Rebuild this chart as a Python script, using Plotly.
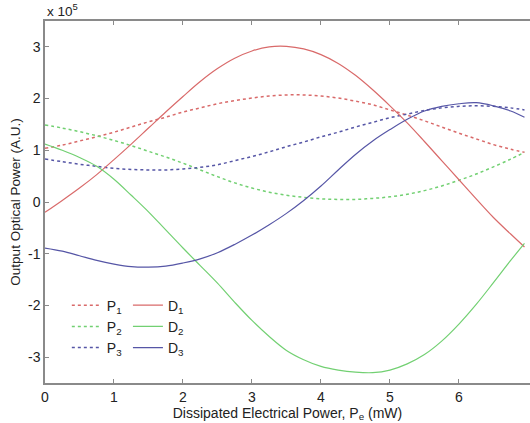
import plotly.graph_objects as go

# Dissipated electrical power (mW)
pe = [0.0, 0.25, 0.5, 0.75, 1.0, 1.25, 1.5, 1.75, 2.0, 2.25, 2.5, 2.75, 3.0, 3.25,
      3.5, 3.75, 4.0, 4.25, 4.5, 4.75, 5.0, 5.25, 5.5, 5.75, 6.0, 6.25, 6.5, 6.75, 6.95]

# Output optical power, in units of 1e5 (A.U.)
p1 = [1.04, 1.10, 1.18, 1.26, 1.35, 1.45, 1.55, 1.64, 1.74, 1.82, 1.90, 1.96, 2.01, 2.05,
      2.07, 2.07, 2.05, 2.01, 1.95, 1.88, 1.78, 1.68, 1.57, 1.45, 1.33, 1.22, 1.11, 1.02, 0.96]
p2 = [1.49, 1.43, 1.36, 1.28, 1.19, 1.09, 0.98, 0.87, 0.75, 0.62, 0.49, 0.37, 0.27, 0.19,
      0.13, 0.09, 0.06, 0.05, 0.05, 0.07, 0.10, 0.15, 0.22, 0.31, 0.42, 0.54, 0.68, 0.83, 0.96]
p3 = [0.83, 0.78, 0.73, 0.69, 0.65, 0.63, 0.62, 0.62, 0.64, 0.67, 0.72, 0.80, 0.88, 0.97,
      1.07, 1.16, 1.26, 1.35, 1.45, 1.54, 1.63, 1.70, 1.77, 1.82, 1.85, 1.86, 1.85, 1.82, 1.78]
d1 = [-0.20, 0.03, 0.27, 0.53, 0.82, 1.12, 1.43, 1.74, 2.04, 2.33, 2.58, 2.78, 2.92, 3.00,
      3.01, 2.96, 2.85, 2.68, 2.45, 2.17, 1.86, 1.53, 1.17, 0.80, 0.43, 0.06, -0.30, -0.62, -0.87]
d2 = [1.12, 1.00, 0.86, 0.69, 0.44, 0.13, -0.19, -0.54, -0.89, -1.23, -1.57, -1.94, -2.29, -2.60,
      -2.87, -3.05, -3.18, -3.25, -3.29, -3.30, -3.25, -3.13, -2.95, -2.69, -2.36, -1.98, -1.56, -1.13, -0.80]
d3 = [-0.89, -0.95, -1.04, -1.13, -1.20, -1.25, -1.26, -1.24, -1.18, -1.10, -0.98, -0.82, -0.64, -0.44,
      -0.22, 0.03, 0.31, 0.62, 0.92, 1.18, 1.40, 1.60, 1.76, 1.85, 1.90, 1.92, 1.86, 1.76, 1.64]

y_ticks = [-3, -2, -1, 0, 1, 2, 3]
x_ticks = [0, 1, 2, 3, 4, 5, 6]
SCALE = 1e5

RED = "#d96a6a"
GREEN = "#72d072"
BLUE = "#5656a6"

# (legend name, values, colour, dash, legend column)
series = [
    ("P<sub>1</sub>", p1, RED, "dot", "legend"),
    ("P<sub>2</sub>", p2, GREEN, "dot", "legend"),
    ("P<sub>3</sub>", p3, BLUE, "dot", "legend"),
    ("D<sub>1</sub>", d1, RED, "solid", "legend2"),
    ("D<sub>2</sub>", d2, GREEN, "solid", "legend2"),
    ("D<sub>3</sub>", d3, BLUE, "solid", "legend2"),
]

fig = go.Figure()
for i, (name, vals, color, dash, leg) in enumerate(series):
    fig.add_trace(go.Scatter(
        x=pe, y=[v * SCALE for v in vals], name=name, mode="lines",
        legend=leg, legendgroup=f"g{i}",
        line=dict(color=color, dash=dash, width=1.5 if dash == "dot" else 1.2,
                  shape="spline", smoothing=1.0),
    ))

FONT = "Liberation Sans, Arial, sans-serif"
axis_style = dict(
    showline=True, linecolor="#8a8a8a", linewidth=1.5,
    ticks="inside", ticklen=4, tickcolor="#8a8a8a", tickwidth=1,
    showgrid=False, zeroline=False,
    tickfont=dict(family=FONT, size=14, color="#222"),
)

legend_style = dict(
    orientation="v", yanchor="top", xanchor="left", y=0.258,
    bgcolor="rgba(0,0,0,0)", font=dict(family=FONT, size=14, color="#222"),
    tracegroupgap=0, itemwidth=30,
)

fig.update_layout(
    width=530, height=423,
    margin=dict(l=45, r=0, t=21, b=40),
    paper_bgcolor="white", plot_bgcolor="white",
    font=dict(family=FONT, size=13, color="#222"),
    xaxis=dict(range=[0, 7.03], tickvals=x_ticks, ticktext=[str(t) for t in x_ticks],
               mirror="ticks",
               title=dict(text="Dissipated Electrical Power, P<sub>e</sub> (mW)",
                          font=dict(size=14), standoff=1),
               **axis_style),
    yaxis=dict(range=[-3.5 * SCALE, 3.5 * SCALE], tickvals=[t * SCALE for t in y_ticks],
               ticktext=[str(t) for t in y_ticks], mirror=False,
               title=dict(text="Output Optical Power (A.U.)", font=dict(size=13.5), standoff=4),
               **axis_style),
    showlegend=True,
    legend=dict(x=0.045, **legend_style),
    legend2=dict(x=0.171, **legend_style),
    annotations=[dict(
        text="x 10<sup>5</sup>", x=0, y=1.0, xref="paper", yref="paper",
        xanchor="left", yanchor="bottom", showarrow=False, yshift=0,
        font=dict(family=FONT, size=13.5, color="#222"),
    )],
)

fig.write_html("out.html")
